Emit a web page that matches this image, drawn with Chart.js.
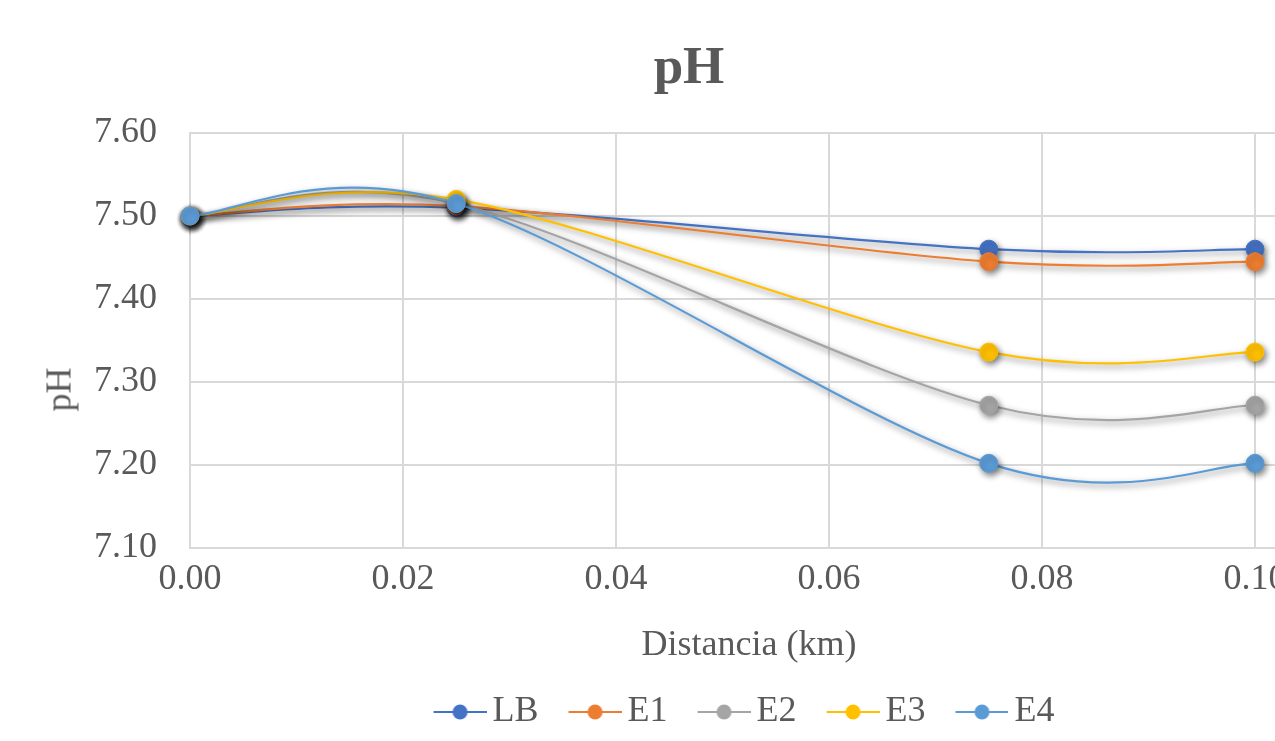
<!DOCTYPE html>
<html lang="es">
<head>
<meta charset="utf-8">
<title>pH</title>
<script src="https://cdn.jsdelivr.net/npm/chart.js@4.4.1/dist/chart.umd.min.js"></script>
<style>
    html, body {
        margin: 0;
        padding: 0;
        background: #ffffff;
        overflow: hidden;
    }
    #wrap {
        position: relative;
        width: 1482px;
        height: 741px;
    }
    .label {
        position: absolute;
        font-family: "Liberation Serif", "Times New Roman", serif;
        color: #595959;
        text-align: center;
        white-space: nowrap;
    }
    #chartTitle {
        left: 0;
        top: 35px;
        width: 1378px;
        font-weight: bold;
        font-size: 53px;
        line-height: 60px;
    }
    #xTitle {
        left: 0;
        top: 622px;
        width: 1498px;
        font-size: 36px;
        line-height: 43px;
    }
    #yTitle {
        left: -41px;
        top: 368px;
        width: 200px;
        font-size: 36px;
        line-height: 43px;
        transform: rotate(-90deg);
    }
</style>
</head>
<body>
<div id="wrap">
    <canvas id="phChart" width="1482" height="741"></canvas>
    <div id="chartTitle" class="label">pH</div>
    <div id="xTitle" class="label">Distancia (km)</div>
    <div id="yTitle" class="label">pH</div>
</div>
<script>
// distancia (km) de cada estación de muestreo
const distances = [0, 0.025, 0.075, 0.10];

const seriesNames = ["LB", "E1", "E2", "E3", "E4"];
const phLB = [7.50, 7.510, 7.460, 7.460];
const phE1 = [7.50, 7.512, 7.445, 7.445];
const phE2 = [7.50, 7.515, 7.272, 7.272];
const phE3 = [7.50, 7.520, 7.336, 7.336];
const phE4 = [7.50, 7.515, 7.202, 7.202];

const yMin = 7.10, yMax = 7.60, yStep = 0.10;
const xMin = 0, xMax = 0.12, xStep = 0.02;

const colors = {
    LB: "#4472C4",
    E1: "#ED7D31",
    E2: "#A5A5A5",
    E3: "#FFC000",
    E4: "#5B9BD5"
};

const FONT = "'Liberation Serif', 'Times New Roman', serif";
const TEXT = "#595959";
const GRID = "#d9d9d9";

function seriesData(values) {
    return distances.map((d, i) => ({ x: d, y: values[i] }));
}

// line + dot marker for the legend; left part of the image is empty
// so the line starts a bit after the item origin
function legendMarker(color) {
    const c = document.createElement("canvas");
    c.width = 85;
    c.height = 20;
    const g = c.getContext("2d");
    g.strokeStyle = color;
    g.lineWidth = 2;
    g.beginPath();
    g.moveTo(32, 10);
    g.lineTo(85, 10);
    g.stroke();
    g.fillStyle = color;
    g.beginPath();
    g.arc(58.5, 10, 7.5, 0, Math.PI * 2);
    g.fill();
    return c;
}

// soft drop shadow under lines and markers
const shadowPlugin = {
    id: "lineShadow",
    beforeDatasetsDraw(chart) {
        const ctx = chart.ctx;
        ctx.save();
        ctx.shadowColor = "rgba(0, 0, 0, 0.5)";
        ctx.shadowBlur = 6;
        ctx.shadowOffsetX = 2;
        ctx.shadowOffsetY = 3;
    },
    afterDatasetsDraw(chart) {
        chart.ctx.restore();
    }
};

// uniform Catmull-Rom smoothing (1/6 of the neighbour chord),
// computed on the pixel positions the scales gave each point
const smoothPlugin = {
    id: "uniformSpline",
    beforeDatasetDraw(chart, args) {
        const line = args.meta.dataset;
        const pts = args.meta.data;
        line.updateControlPoints(chart.chartArea, "x");
        pts.forEach((p, i) => {
            const prev = pts[i - 1] || p;
            const next = pts[i + 1] || p;
            const dx = (next.x - prev.x) / 6;
            const dy = (next.y - prev.y) / 6;
            p.cp1x = p.x - dx;
            p.cp1y = p.y - dy;
            p.cp2x = p.x + dx;
            p.cp2y = p.y + dy;
        });
    }
};

function buildDatasets() {
    const values = { LB: phLB, E1: phE1, E2: phE2, E3: phE3, E4: phE4 };
    // last series first so it ends up drawn on top
    return seriesNames.slice().reverse().map(name => ({
        label: name,
        data: seriesData(values[name]),
        borderColor: colors[name],
        backgroundColor: colors[name],
        pointBackgroundColor: colors[name],
        pointBorderColor: colors[name],
        pointRadius: 9,
        pointBorderWidth: 1,
        borderWidth: 2.2,
        tension: 0.4,
        capBezierPoints: false,
        fill: false,
        clip: false
    }));
}

function init() {
    const ctx = document.getElementById("phChart").getContext("2d");
    const defaultLabels = Chart.defaults.plugins.legend.labels.generateLabels;

    new Chart(ctx, {
        type: "line",
        data: { datasets: buildDatasets() },
        plugins: [shadowPlugin, smoothPlugin],
        options: {
            responsive: false,
            animation: false,
            layout: { padding: { top: 133, left: 0, right: 14, bottom: 1 } },
            scales: {
                x: {
                    type: "linear",
                    min: xMin,
                    max: xMax,
                    afterFit(scale) {
                        scale.height = 136;
                        scale.paddingRight = 0;
                    },
                    ticks: {
                        stepSize: xStep,
                        padding: 10,
                        color: TEXT,
                        font: { family: FONT, size: 36 },
                        callback: v => v.toFixed(2)
                    },
                    grid: { color: GRID, lineWidth: 2, drawTicks: false },
                    border: { color: GRID, width: 2 }
                },
                y: {
                    min: yMin,
                    max: yMax,
                    afterFit(scale) {
                        scale.width = 190;
                    },
                    ticks: {
                        stepSize: yStep,
                        padding: 33,
                        color: TEXT,
                        font: { family: FONT, size: 36 },
                        callback: v => v.toFixed(2)
                    },
                    grid: { color: GRID, lineWidth: 2, drawTicks: false },
                    border: { color: GRID, width: 2 }
                }
            },
            plugins: {
                title: { display: false },
                tooltip: { enabled: false },
                legend: {
                    position: "bottom",
                    reverse: true,
                    labels: {
                        usePointStyle: true,
                        pointStyleWidth: 61,
                        boxHeight: 20,
                        padding: 10,
                        color: TEXT,
                        font: { family: FONT, size: 36 },
                        generateLabels(chart) {
                            return defaultLabels(chart).map(item => {
                                item.pointStyle = legendMarker(colors[item.text]);
                                return item;
                            });
                        }
                    }
                }
            }
        }
    });
}

document.addEventListener("DOMContentLoaded", init);
</script>
</body>
</html>
